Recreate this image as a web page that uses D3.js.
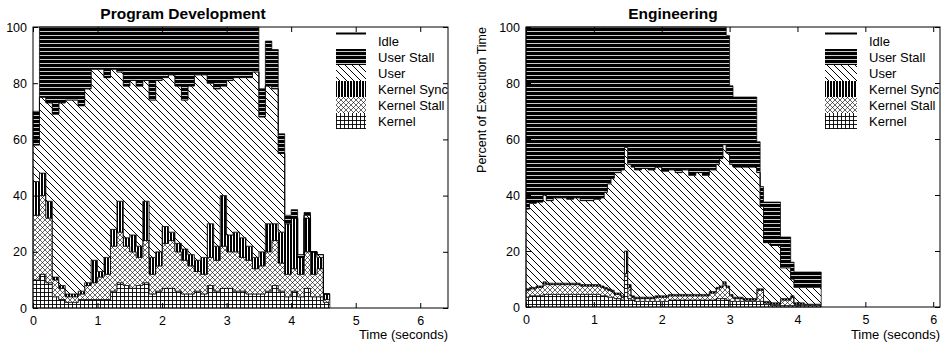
<!DOCTYPE html>
<html>
<head>
<meta charset="utf-8">
<script src="https://cdn.jsdelivr.net/npm/d3@7"></script>
<style>
  body { margin: 0; background: #fff; }
  text { font-family: "Liberation Sans", Arial, Helvetica, sans-serif; }
</style>
</head>
<body>
<svg id="chart" width="943" height="344"></svg>
<script>
// ---- data (percent of execution time per time bin) ----
const xTicks = [0, 1, 2, 3, 4, 5, 6];
const yTicks = [0, 20, 40, 60, 80, 100];
const seriesKeys = ['kernel', 'kernelStall', 'kernelSync', 'user', 'userStall'];
const legendLabels = ['Idle', 'User Stall', 'User', 'Kernel Sync', 'Kernel Stall', 'Kernel'];

// Program Development: bin edges (seconds)
const devEdges = [0, 0.1, 0.2, 0.3, 0.4, 0.5, 0.6, 0.7, 0.8, 0.9, 1.0, 1.1, 1.2, 1.3, 1.4, 1.5, 1.6, 1.7, 1.8, 1.9,
  2.0, 2.1, 2.2, 2.3, 2.4, 2.5, 2.6, 2.7, 2.8, 2.9, 3.0, 3.1, 3.2, 3.3, 3.4, 3.5, 3.6, 3.7, 3.8, 3.9,
  4.0, 4.1, 4.2, 4.3, 4.4, 4.5, 4.6];
const devKernel = [10, 12, 9, 4, 3, 2, 2, 3, 3, 3, 3, 3, 6, 9, 8, 7, 8, 9, 5, 6,
  7, 7, 6, 5, 5, 6, 5, 8, 6, 7, 7, 6, 6, 5, 5, 5, 6, 8, 6, 4, 6, 4, 7, 4, 4, 2];
const devKernelStall = [23, 28, 23, 6, 4, 2, 2, 2, 5, 6, 8, 9, 16, 18, 14, 13, 10, 15, 7, 9,
  16, 17, 14, 12, 10, 7, 7, 10, 11, 15, 13, 14, 12, 12, 9, 10, 14, 16, 10, 8, 8, 8, 13, 8, 10, 1];
const devKernelSync = [12, 8, 6, 1, 1, 1, 1, 1, 1, 8, 2, 6, 6, 11, 3, 6, 4, 14, 6, 5,
  6, 3, 3, 4, 4, 4, 6, 12, 5, 18, 6, 7, 7, 5, 4, 5, 10, 6, 11, 18, 18, 6, 12, 8, 4, 2];
const devUser = [13, 27, 35, 58, 65, 69, 69, 66, 69, 68, 72, 64, 57, 46, 54, 55, 57, 43, 56, 61,
  53, 56, 56, 53, 60, 66, 65, 50, 56, 39, 55, 55, 57, 60, 66, 48, 49, 48, 28, 0, 0, 0, 1, 0, 1, 0];
const devUserStall = [12, 25, 27, 31, 27, 26, 26, 28, 22, 15, 15, 18, 15, 16, 21, 19, 21, 19, 26, 19,
  18, 17, 21, 26, 21, 17, 17, 20, 22, 21, 19, 18, 18, 18, 16, 10, 16, 14, 7, 3, 3, 1, 1, 0, 0, 0];

// Engineering: bin edges (seconds)
const engEdges = [0, 0.05, 0.15, 0.25, 0.3, 0.4, 0.5, 0.6, 0.7, 0.8, 0.9, 1.0, 1.1, 1.15, 1.2, 1.25, 1.3, 1.4,
  1.45, 1.5, 1.55, 1.6, 1.7, 1.8, 1.9, 2.0, 2.1, 2.2, 2.3, 2.4, 2.5, 2.6, 2.7, 2.8, 2.85, 2.9, 2.95,
  3.0, 3.05, 3.2, 3.4, 3.45, 3.5, 3.6, 3.75, 3.9, 3.95, 4.1, 4.35];
const engKernel = [3.5, 4, 4, 4.5, 4.5, 4.5, 4.5, 4.5, 4.5, 4.5, 4.5, 4.5, 4, 4, 3.5, 3.5, 3, 2.5, 11, 3,
  2.5, 2, 2, 2, 2, 2, 2.5, 2.5, 2.5, 2.5, 2.5, 2.5, 2.5, 3, 3, 3, 2.5, 2, 2, 2, 2, 2, 1, 0.5, 0.5, 0.5, 0.5, 0.5];
const engKernelStall = [2.5, 2.5, 3, 4, 3.5, 3.5, 3.5, 3.5, 3.5, 3, 3, 3, 3, 2.5, 2.5, 2, 1.5, 1, 1, 4,
  1, 1, 1, 1, 1.5, 1.5, 1.5, 1.5, 1.5, 1.5, 1.5, 1.5, 2.5, 3.5, 4, 5.5, 4.5, 2, 1, 0.5, 4, 4, 0.5, 0.5, 2, 3, 0.5, 0.5];
const engKernelSync = [0.5, 0.5, 0.5, 0.5, 0.5, 0.5, 0.5, 0.5, 0.5, 0.5, 0.5, 0.5, 0.5, 0.5, 0.5, 0.5, 0.5, 0.5, 8, 1,
  0.5, 0.5, 0.5, 0.5, 0.5, 0.5, 0.5, 0.5, 0.5, 0.5, 0.5, 0.5, 0.5, 0.5, 0.5, 0.5, 0.5, 0.5, 0.5, 0.5, 0.5, 0.5, 0.5, 0.5, 0.5, 0.5, 0.5, 0];
const engUser = [28.5, 30, 30, 31, 29.5, 30.5, 30.5, 30, 30.5, 30, 30, 30.5, 31.5, 34, 37.5, 40, 43, 45, 37, 43,
  46, 45.5, 46, 45.5, 46, 44.5, 44.5, 43.5, 44.5, 42.5, 43.5, 42.5, 43.5, 44, 45.5, 49, 47.5, 46.5, 46.5, 47,
  41.5, 29.5, 21, 20.5, 11, 6, 5.5, 6];
const engUserStall = [65, 63, 62.5, 60, 62, 61, 61, 61.5, 61, 62, 62, 61.5, 61, 59, 56, 54, 52, 51, 43, 49,
  50, 51, 50.5, 51, 50, 51.5, 51, 52, 51, 53, 52, 53, 51, 49, 47, 42, 42, 28, 25, 25,
  11, 7, 14.5, 15.5, 11, 6, 5.5, 5.5];

const svg = d3.select('#chart');
const font = '"Liberation Sans", Arial, Helvetica, sans-serif';

// ---- hatch patterns ----
const defs = svg.append('defs');

const pUserStall = defs.append('pattern').attr('id', 'pUserStall')
  .attr('patternUnits', 'userSpaceOnUse').attr('width', 8).attr('height', 4);
pUserStall.append('rect').attr('width', 8).attr('height', 4).attr('fill', '#000');
pUserStall.append('line').attr('x1', 0).attr('x2', 8).attr('y1', 3.5).attr('y2', 3.5)
  .attr('stroke', '#fff').attr('stroke-width', 0.8);

const pUser = defs.append('pattern').attr('id', 'pUser')
  .attr('patternUnits', 'userSpaceOnUse').attr('width', 7).attr('height', 7);
pUser.append('rect').attr('width', 7).attr('height', 7).attr('fill', '#fff');
pUser.append('path').attr('d', 'M0,0L7,7M-1,6L1,8M6,-1L8,1')
  .attr('stroke', '#000').attr('stroke-width', 1);

const pSync = defs.append('pattern').attr('id', 'pSync')
  .attr('patternUnits', 'userSpaceOnUse').attr('width', 3).attr('height', 4);
pSync.append('rect').attr('width', 3).attr('height', 4).attr('fill', '#000');
pSync.append('rect').attr('x', 1).attr('width', 1).attr('height', 4).attr('fill', '#fff');

const pKStall = defs.append('pattern').attr('id', 'pKStall')
  .attr('patternUnits', 'userSpaceOnUse').attr('width', 5).attr('height', 5);
pKStall.append('rect').attr('width', 5).attr('height', 5).attr('fill', '#fff');
pKStall.append('path').attr('d', 'M0,0L5,5M0,5L5,0')
  .attr('stroke', '#000').attr('stroke-width', 0.6);

const pKernel = defs.append('pattern').attr('id', 'pKernel')
  .attr('patternUnits', 'userSpaceOnUse').attr('width', 4).attr('height', 4);
pKernel.append('rect').attr('width', 4).attr('height', 4).attr('fill', '#fff');
pKernel.append('path').attr('d', 'M0.5,0V4M0,0.5H4')
  .attr('stroke', '#000').attr('stroke-width', 0.9);

const fills = {
  kernel: 'url(#pKernel)',
  kernelStall: 'url(#pKStall)',
  kernelSync: 'url(#pSync)',
  user: 'url(#pUser)',
  userStall: 'url(#pUserStall)'
};
const legendFills = [null, fills.userStall, fills.user, fills.kernelSync, fills.kernelStall, fills.kernel];

function drawPanel(cfg) {
  const x = d3.scaleLinear().domain([0, cfg.xMax]).range([cfg.left, cfg.right]);
  const y = d3.scaleLinear().domain([0, 100]).range([cfg.bottom, cfg.top]);

  const rows = cfg.edges.slice(0, -1).map((t, i) => ({
    t: t,
    kernel: cfg.kernel[i],
    kernelStall: cfg.kernelStall[i],
    kernelSync: cfg.kernelSync[i],
    user: cfg.user[i],
    userStall: cfg.userStall[i]
  }));
  // closing point so the last step has width
  rows.push(Object.assign({}, rows[rows.length - 1], {t: cfg.edges[cfg.edges.length - 1]}));

  const stacked = d3.stack().keys(seriesKeys)(rows);
  const area = d3.area()
    .curve(d3.curveStepAfter)
    .x(d => x(d.data.t))
    .y0(d => y(d[0]))
    .y1(d => y(d[1]));

  const g = svg.append('g');
  g.selectAll('.layer').data(stacked).enter().append('path')
    .attr('class', 'layer')
    .attr('d', area)
    .attr('fill', d => fills[d.key])
    .attr('stroke', '#000')
    .attr('stroke-width', 0.7);

  // axes with inward ticks on all four sides
  const axisStyle = sel => {
    sel.select('.domain').remove();
    sel.selectAll('text').attr('font-size', 12.5).attr('font-family', font).attr('fill', '#000');
    sel.selectAll('line').attr('stroke', '#000');
  };
  g.append('g').attr('transform', 'translate(0,' + cfg.bottom + ')')
    .call(d3.axisBottom(x).tickValues(xTicks).tickFormat(d3.format('d'))
      .tickSizeInner(-5).tickSizeOuter(0).tickPadding(8))
    .call(axisStyle);
  g.append('g').attr('transform', 'translate(0,' + cfg.top + ')')
    .call(d3.axisTop(x).tickValues(xTicks).tickSizeInner(-5).tickSizeOuter(0).tickFormat(''))
    .call(axisStyle);
  g.append('g').attr('transform', 'translate(' + cfg.left + ',0)')
    .call(d3.axisLeft(y).tickValues(yTicks).tickSizeInner(-5).tickSizeOuter(0).tickPadding(6))
    .call(axisStyle);
  g.append('g').attr('transform', 'translate(' + cfg.right + ',0)')
    .call(d3.axisRight(y).tickValues(yTicks).tickSizeInner(-5).tickSizeOuter(0).tickFormat(''))
    .call(axisStyle);

  g.append('rect')
    .attr('x', cfg.left).attr('y', cfg.top)
    .attr('width', cfg.right - cfg.left).attr('height', cfg.bottom - cfg.top)
    .attr('fill', 'none').attr('stroke', '#000').attr('stroke-width', 1);

  g.append('text')
    .attr('x', cfg.titleX).attr('y', 19)
    .attr('text-anchor', 'middle')
    .attr('font-size', 15.5).attr('font-weight', 'bold')
    .text(cfg.title);

  g.append('text')
    .attr('x', cfg.right).attr('y', 339)
    .attr('text-anchor', 'end')
    .attr('font-size', 13)
    .text('Time (seconds)');

  if (cfg.yLabel) {
    g.append('text')
      .attr('transform', 'translate(' + cfg.yLabelX + ',' + 100 + ') rotate(-90)')
      .attr('text-anchor', 'middle')
      .attr('font-size', 12.5)
      .text(cfg.yLabel);
  }

  // legend
  const lg = g.append('g').attr('transform', 'translate(' + cfg.legendX + ',0)');
  legendLabels.forEach((label, i) => {
    const cy = 41 + i * 16;
    if (i === 0) {
      lg.append('line').attr('x1', 0).attr('x2', cfg.swatchW)
        .attr('y1', 33.5).attr('y2', 33.5)
        .attr('stroke', '#000').attr('stroke-width', 2);
    } else {
      lg.append('rect').attr('x', 0).attr('y', cy - 8)
        .attr('width', cfg.swatchW).attr('height', 16)
        .attr('fill', legendFills[i]);
    }
    lg.append('text')
      .attr('x', cfg.swatchW + 12).attr('y', cy + 4.5)
      .attr('font-size', 13)
      .text(label);
  });
}

drawPanel({
  title: 'Program Development', titleX: 183,
  left: 33, right: 448, top: 27, bottom: 308, xMax: 6.43,
  edges: devEdges, kernel: devKernel, kernelStall: devKernelStall,
  kernelSync: devKernelSync, user: devUser, userStall: devUserStall,
  legendX: 336, swatchW: 30
});

drawPanel({
  title: 'Engineering', titleX: 673,
  left: 526, right: 940, top: 27, bottom: 307, xMax: 6.1,
  edges: engEdges, kernel: engKernel, kernelStall: engKernelStall,
  kernelSync: engKernelSync, user: engUser, userStall: engUserStall,
  yLabel: 'Percent of Execution Time', yLabelX: 486,
  legendX: 825, swatchW: 32
});
</script>
</body>
</html>
